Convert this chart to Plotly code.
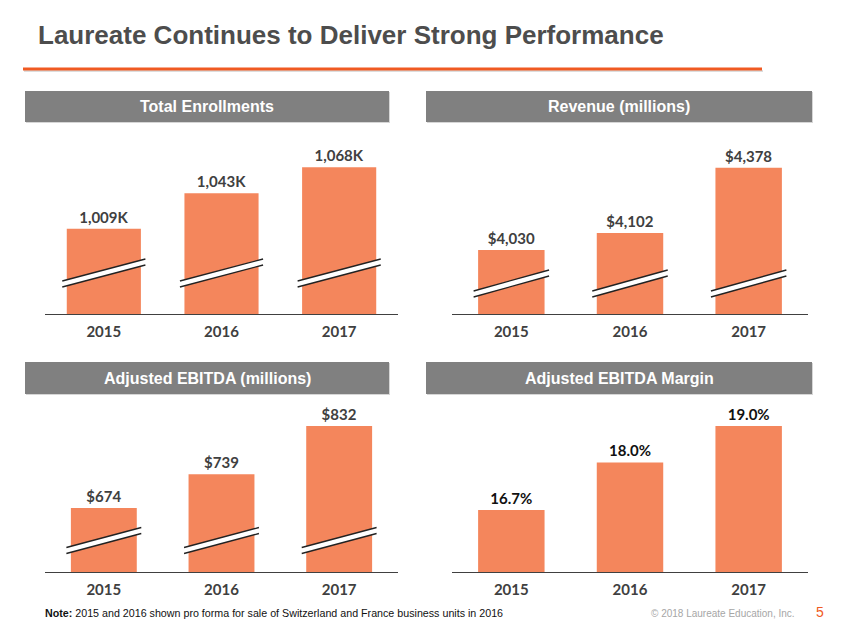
import plotly.graph_objects as go

W, H = 847, 635

# ---------------- data ----------------
years = ["2015", "2016", "2017"]
enrollments_k = [1009, 1043, 1068]
revenue_m = [4030, 4102, 4378]
ebitda_m = [674, 739, 832]
ebitda_margin_pct = [16.7, 18.0, 19.0]

title_text = "Laureate Continues to Deliver Strong Performance"
panel_titles = ["Total Enrollments", "Revenue (millions)",
                "Adjusted EBITDA (millions)", "Adjusted EBITDA Margin"]
note_bold = "Note:"
note_text = " 2015 and 2016 shown pro forma for sale of Switzerland and France business units in 2016"
copyright_text = "\u00a9 2018 Laureate Education, Inc."
page_no = "5"

# ---------------- styles ----------------
BAR = "#F4865C"
ORANGE = "#F05A22"
HEADER = "#808080"
DARK = "#404040"


def px(x):
    return x / W


def py(y):
    return 1 - y / H


fig = go.Figure()

# panel specs: (values, template, label color, x-domain px, y-domain px, y-range,
#               bar width, break center offset px, half rise px)
panels = [
    (enrollments_k, "%{y:,}K", DARK, (45, 398), (314, 140), (927, 1094.3), 0.63, 41, 11),
    (revenue_m, "$%{y:,}", DARK, (452, 808), (314, 140), (3759, 4496), 0.56, 30.5, 10.5),
    (ebitda_m, "$%{y}", DARK, (45, 398), (572, 400), (551, 881.8), 0.56, 31.5, 10),
    (ebitda_margin_pct, "%{y:.1f}%", "#111111", (452, 808), (572, 400), (15.0, 19.71), 0.56, None, None),
]

shapes = []
for i, (vals, tmpl, lcol, xd, yd, yr, bw, bc, hr) in enumerate(panels):
    n = "" if i == 0 else str(i + 1)
    xa, ya = "x" + n, "y" + n
    fig.add_trace(go.Bar(
        x=years, y=vals, xaxis=xa, yaxis=ya,
        marker=dict(color=BAR, line=dict(width=0)),
        width=bw,
        texttemplate=tmpl, textposition="outside", cliponaxis=False,
        textfont=dict(family="Lato", size=15, color=lcol, weight="bold"),
        hoverinfo="skip", showlegend=False,
    ))
    fig.layout["xaxis" + n] = dict(
        domain=[px(xd[0]), px(xd[1])], anchor=ya, type="category",
        range=[-0.5, 2.5], showline=True, linecolor=DARK, linewidth=1.2,
        showgrid=False, zeroline=False, ticks="outside", ticklen=4,
        tickcolor="rgba(0,0,0,0)",
        tickfont=dict(family="Lato", size=15, color=DARK, weight="bold"),
        fixedrange=True,
    )
    fig.layout["yaxis" + n] = dict(
        domain=[py(yd[0]), py(yd[1])], anchor=xa, range=list(yr),
        visible=False, showgrid=False, zeroline=False, fixedrange=True,
    )
    if bc is not None:
        dom_px = yd[0] - yd[1]
        scale = (yr[1] - yr[0]) / dom_px
        cat_px = (xd[1] - xd[0]) / 3.0

        def dy(off):
            return yr[0] + off * scale
        half_t = 3.0
        half_w = bw / 2 + 4.5 / cat_px
        for k in range(len(years)):
            x0, x1 = k - half_w, k + half_w
            tl, tr = dy(bc - hr + half_t), dy(bc + hr + half_t)
            bl, br = dy(bc - hr - half_t), dy(bc + hr - half_t)
            shapes.append(dict(
                type="path", xref=xa, yref=ya,
                path=f"M {x0} {bl} L {x1} {br} L {x1} {tr} L {x0} {tl} Z",
                fillcolor="white", line=dict(width=0), layer="above"))
            shapes.append(dict(type="line", xref=xa, yref=ya, x0=x0, x1=x1,
                               y0=tl, y1=tr, line=dict(color="#222222", width=1.3),
                               layer="above"))
            shapes.append(dict(type="line", xref=xa, yref=ya, x0=x0, x1=x1,
                               y0=bl, y1=br, line=dict(color="#222222", width=1.3),
                               layer="above"))

# orange rule under title (with faint shadow)
shapes.append(dict(type="line", xref="paper", yref="paper", x0=px(24), x1=px(763),
                   y0=py(71), y1=py(71), line=dict(color="#dddddd", width=2)))
shapes.append(dict(type="line", xref="paper", yref="paper", x0=px(23), x1=px(762),
                   y0=py(69), y1=py(69), line=dict(color=ORANGE, width=3)))

# header bars
headers = [((25, 389), (91, 122)), ((426, 812), (91, 122)),
           ((25, 389), (362, 394)), ((426, 812), (362, 394))]
annotations = []
for (hx, hy), txt in zip(headers, panel_titles):
    shapes.append(dict(type="rect", xref="paper", yref="paper",
                       x0=px(hx[0] + 1), x1=px(hx[1] + 1), y0=py(hy[1] + 1), y1=py(hy[0] + 1),
                       fillcolor="#d6d6d6", line=dict(width=0), layer="below"))
    shapes.append(dict(type="rect", xref="paper", yref="paper",
                       x0=px(hx[0]), x1=px(hx[1]), y0=py(hy[1]), y1=py(hy[0]),
                       fillcolor=HEADER, line=dict(width=0), layer="below"))
    annotations.append(dict(
        text=txt, xref="paper", yref="paper",
        x=px((hx[0] + hx[1]) / 2), y=py((hy[0] + hy[1]) / 2),
        xanchor="center", yanchor="middle", showarrow=False,
        font=dict(family="Liberation Sans", size=16, color="white", weight="bold"),
    ))

annotations.append(dict(
    text=title_text, xref="paper", yref="paper", x=px(36), y=py(35),
    xanchor="left", yanchor="middle", showarrow=False,
    font=dict(family="Liberation Sans", size=26, color="#4D4D4D", weight="bold"),
))
annotations.append(dict(
    text=f"<b>{note_bold}</b>{note_text}", xref="paper", yref="paper",
    x=px(43), y=py(613), xanchor="left", yanchor="middle", showarrow=False,
    font=dict(family="Liberation Sans", size=10.7, color="#111111"),
))
annotations.append(dict(
    text=copyright_text, xref="paper", yref="paper",
    x=px(797), y=py(613), xanchor="right", yanchor="middle", showarrow=False,
    font=dict(family="Liberation Sans", size=10, color="#a6a6a6"),
))
annotations.append(dict(
    text=page_no, xref="paper", yref="paper",
    x=px(820), y=py(612), xanchor="center", yanchor="middle", showarrow=False,
    font=dict(family="Liberation Sans", size=14, color=ORANGE),
))

fig.update_layout(
    width=W, height=H, margin=dict(l=0, r=0, t=0, b=0),
    paper_bgcolor="white", plot_bgcolor="rgba(0,0,0,0)",
    shapes=shapes, annotations=annotations,
)

fig.write_html(
    "out.html",
    config={"displayModeBar": False},
    post_script="document.body.style.margin='0';document.body.style.overflow='hidden';",
)
